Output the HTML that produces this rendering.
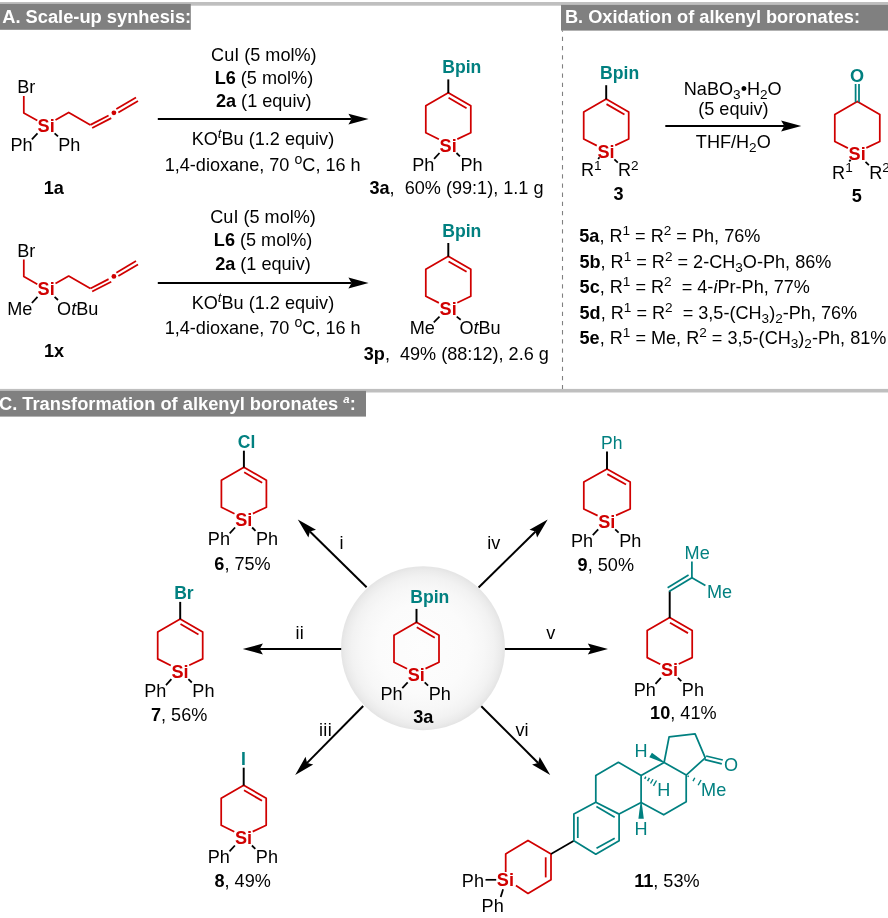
<!DOCTYPE html>
<html lang="en"><head><meta charset="utf-8"><title>Scheme</title>
<style>html,body{margin:0;padding:0;background:#fff}svg{display:block}text{font-family:'Liberation Sans', sans-serif;white-space:pre}</style></head>
<body>
<svg width="888" height="918" viewBox="0 0 888 918">
<defs><radialGradient id="sph" cx="50%" cy="50%" r="50%"><stop offset="0" stop-color="#fdfdfd"/><stop offset="0.55" stop-color="#fbfbfb"/><stop offset="0.75" stop-color="#f7f7f7"/><stop offset="0.87" stop-color="#f2f2f2"/><stop offset="0.95" stop-color="#ebebeb"/><stop offset="1" stop-color="#e4e4e4"/></radialGradient></defs>
<rect width="888" height="918" fill="#ffffff"/>
<rect x="0" y="2.0" width="888" height="3.7" fill="#bfbfbf"/>
<rect x="0" y="3.9" width="190.8" height="25.9" fill="#808080"/>
<rect x="561.0" y="4.9" width="327.0" height="25.7" fill="#808080"/>
<rect x="0" y="388.9" width="888" height="3.6" fill="#bfbfbf"/>
<rect x="0" y="390.9" width="366" height="25.7" fill="#808080"/>
<line x1="562.5" y1="36.8" x2="562.5" y2="389" stroke="#808080" stroke-width="1.1" stroke-dasharray="4.3 4.866"/><line x1="562.5" y1="30.5" x2="562.5" y2="31.8" stroke="#808080" stroke-width="1.1"/>
<polyline points="23.80,96.00 23.80,113.00 37.30,120.60" fill="none" stroke="#d00000" stroke-width="1.75" stroke-linejoin="round" stroke-linecap="butt"/>
<polyline points="55.50,120.00 68.70,112.50 90.40,124.90" fill="none" stroke="#d00000" stroke-width="1.75" stroke-linejoin="round" stroke-linecap="butt"/>
<line x1="90.40" y1="124.90" x2="108.57" y2="115.55" stroke="#d00000" stroke-width="1.75" stroke-linecap="butt"/>
<line x1="92.18" y1="127.92" x2="111.23" y2="118.11" stroke="#d00000" stroke-width="1.75" stroke-linecap="butt"/>
<line x1="116.33" y1="109.05" x2="135.99" y2="97.48" stroke="#d00000" stroke-width="1.75" stroke-linecap="butt"/>
<line x1="118.36" y1="112.49" x2="138.01" y2="100.92" stroke="#d00000" stroke-width="1.75" stroke-linecap="butt"/>
<circle cx="113.9" cy="112.8" r="2.4" fill="#d00000"/>
<line x1="37.50" y1="133.30" x2="31.90" y2="139.40" stroke="#000000" stroke-width="1.75" stroke-linecap="butt"/>
<line x1="54.60" y1="133.30" x2="58.00" y2="136.40" stroke="#000000" stroke-width="1.75" stroke-linecap="butt"/>
<polyline points="23.80,259.60 23.80,276.60 37.30,284.20" fill="none" stroke="#d00000" stroke-width="1.75" stroke-linejoin="round" stroke-linecap="butt"/>
<polyline points="55.50,283.60 68.70,276.10 90.40,288.50" fill="none" stroke="#d00000" stroke-width="1.75" stroke-linejoin="round" stroke-linecap="butt"/>
<line x1="90.40" y1="288.50" x2="108.57" y2="279.15" stroke="#d00000" stroke-width="1.75" stroke-linecap="butt"/>
<line x1="92.18" y1="291.52" x2="111.23" y2="281.71" stroke="#d00000" stroke-width="1.75" stroke-linecap="butt"/>
<line x1="116.33" y1="272.65" x2="135.99" y2="261.08" stroke="#d00000" stroke-width="1.75" stroke-linecap="butt"/>
<line x1="118.36" y1="276.09" x2="138.01" y2="264.52" stroke="#d00000" stroke-width="1.75" stroke-linecap="butt"/>
<circle cx="113.9" cy="276.4" r="2.4" fill="#d00000"/>
<line x1="37.50" y1="296.90" x2="31.90" y2="303.00" stroke="#000000" stroke-width="1.75" stroke-linecap="butt"/>
<line x1="54.60" y1="296.90" x2="58.00" y2="300.00" stroke="#000000" stroke-width="1.75" stroke-linecap="butt"/>
<line x1="157.80" y1="119.10" x2="351.60" y2="119.10" stroke="#000000" stroke-width="2.0" stroke-linecap="butt"/>
<polygon points="368.60,119.10 348.40,124.50 351.60,119.10 348.40,113.70" fill="#000000"/>
<line x1="157.80" y1="283.00" x2="351.60" y2="283.00" stroke="#000000" stroke-width="2.0" stroke-linecap="butt"/>
<polygon points="368.60,283.00 348.40,288.40 351.60,283.00 348.40,277.60" fill="#000000"/>
<polyline points="438.90,139.30 425.80,132.70 425.80,105.70 448.30,92.70 470.80,105.70 470.80,132.70 457.30,139.10" fill="none" stroke="#d00000" stroke-width="1.75" stroke-linejoin="round" stroke-linecap="butt"/>
<line x1="448.57" y1="97.82" x2="466.57" y2="108.22" stroke="#d00000" stroke-width="1.75" stroke-linecap="butt"/>
<line x1="448.30" y1="93.00" x2="448.30" y2="79.40" stroke="#000000" stroke-width="1.95" stroke-linecap="butt"/>
<line x1="439.50" y1="153.00" x2="434.10" y2="158.90" stroke="#000000" stroke-width="1.75" stroke-linecap="butt"/>
<line x1="456.50" y1="153.00" x2="459.90" y2="156.30" stroke="#000000" stroke-width="1.75" stroke-linecap="butt"/>
<polyline points="438.90,302.90 425.80,296.30 425.80,269.30 448.30,256.30 470.80,269.30 470.80,296.30 457.30,302.70" fill="none" stroke="#d00000" stroke-width="1.75" stroke-linejoin="round" stroke-linecap="butt"/>
<line x1="448.57" y1="261.42" x2="466.57" y2="271.82" stroke="#d00000" stroke-width="1.75" stroke-linecap="butt"/>
<line x1="448.30" y1="256.60" x2="448.30" y2="243.00" stroke="#000000" stroke-width="1.95" stroke-linecap="butt"/>
<line x1="439.50" y1="316.60" x2="433.80" y2="322.30" stroke="#000000" stroke-width="1.75" stroke-linecap="butt"/>
<line x1="456.70" y1="316.60" x2="460.70" y2="319.70" stroke="#000000" stroke-width="1.75" stroke-linecap="butt"/>
<polyline points="596.80,145.60 583.70,139.00 583.70,112.00 606.20,99.00 628.70,112.00 628.70,139.00 615.20,145.40" fill="none" stroke="#d00000" stroke-width="1.75" stroke-linejoin="round" stroke-linecap="butt"/>
<line x1="606.47" y1="104.12" x2="624.47" y2="114.52" stroke="#d00000" stroke-width="1.75" stroke-linecap="butt"/>
<line x1="606.20" y1="99.30" x2="606.20" y2="85.20" stroke="#000000" stroke-width="1.95" stroke-linecap="butt"/>
<line x1="599.50" y1="157.30" x2="598.20" y2="159.00" stroke="#000000" stroke-width="1.75" stroke-linecap="butt"/>
<line x1="614.40" y1="159.30" x2="617.80" y2="162.60" stroke="#000000" stroke-width="1.75" stroke-linecap="butt"/>
<line x1="665.30" y1="126.00" x2="784.30" y2="126.00" stroke="#000000" stroke-width="2.0" stroke-linecap="butt"/>
<polygon points="801.30,126.00 781.10,131.40 784.30,126.00 781.10,120.60" fill="#000000"/>
<polyline points="847.90,148.10 834.80,141.50 834.80,114.50 857.30,101.50 879.80,114.50 879.80,141.50 866.30,147.90" fill="none" stroke="#d00000" stroke-width="1.75" stroke-linejoin="round" stroke-linecap="butt"/>
<line x1="855.60" y1="102.30" x2="855.60" y2="84.00" stroke="#008080" stroke-width="1.75" stroke-linecap="butt"/>
<line x1="859.00" y1="102.30" x2="859.00" y2="84.00" stroke="#008080" stroke-width="1.75" stroke-linecap="butt"/>
<line x1="850.60" y1="159.80" x2="849.30" y2="161.50" stroke="#000000" stroke-width="1.75" stroke-linecap="butt"/>
<line x1="865.50" y1="161.80" x2="868.90" y2="165.10" stroke="#000000" stroke-width="1.75" stroke-linecap="butt"/>
<circle cx="423.0" cy="648.2" r="82.0" fill="url(#sph)"/>
<line x1="366.60" y1="587.30" x2="309.91" y2="531.43" stroke="#000000" stroke-width="2.0" stroke-linecap="butt"/>
<polygon points="297.80,519.50 315.98,529.83 309.91,531.43 308.40,537.52" fill="#000000"/>
<line x1="341.20" y1="649.00" x2="259.70" y2="649.00" stroke="#000000" stroke-width="2.0" stroke-linecap="butt"/>
<polygon points="242.70,649.00 262.90,643.60 259.70,649.00 262.90,654.40" fill="#000000"/>
<line x1="363.20" y1="706.00" x2="307.13" y2="762.89" stroke="#000000" stroke-width="2.0" stroke-linecap="butt"/>
<polygon points="295.20,775.00 305.53,756.82 307.13,762.89 313.23,764.40" fill="#000000"/>
<line x1="478.60" y1="587.50" x2="535.58" y2="531.42" stroke="#000000" stroke-width="2.0" stroke-linecap="butt"/>
<polygon points="547.70,519.50 537.09,537.52 535.58,531.42 529.51,529.82" fill="#000000"/>
<line x1="504.90" y1="649.00" x2="591.00" y2="649.00" stroke="#000000" stroke-width="2.0" stroke-linecap="butt"/>
<polygon points="608.00,649.00 587.80,654.40 591.00,649.00 587.80,643.60" fill="#000000"/>
<line x1="481.30" y1="706.30" x2="538.16" y2="763.00" stroke="#000000" stroke-width="2.0" stroke-linecap="butt"/>
<polygon points="550.20,775.00 532.08,764.56 538.16,763.00 539.71,756.91" fill="#000000"/>
<polyline points="234.50,513.80 221.40,507.20 221.40,480.20 243.90,467.20 266.40,480.20 266.40,507.20 252.90,513.60" fill="none" stroke="#d00000" stroke-width="1.75" stroke-linejoin="round" stroke-linecap="butt"/>
<line x1="244.17" y1="472.32" x2="262.17" y2="482.72" stroke="#d00000" stroke-width="1.75" stroke-linecap="butt"/>
<line x1="243.90" y1="467.50" x2="243.90" y2="450.70" stroke="#000000" stroke-width="1.95" stroke-linecap="butt"/>
<line x1="235.10" y1="527.50" x2="229.70" y2="533.40" stroke="#000000" stroke-width="1.75" stroke-linecap="butt"/>
<line x1="252.10" y1="527.50" x2="255.50" y2="530.80" stroke="#000000" stroke-width="1.75" stroke-linecap="butt"/>
<polyline points="170.80,665.50 157.70,658.90 157.70,631.90 180.20,618.90 202.70,631.90 202.70,658.90 189.20,665.30" fill="none" stroke="#d00000" stroke-width="1.75" stroke-linejoin="round" stroke-linecap="butt"/>
<line x1="180.47" y1="624.02" x2="198.47" y2="634.42" stroke="#d00000" stroke-width="1.75" stroke-linecap="butt"/>
<line x1="180.20" y1="619.20" x2="180.20" y2="601.90" stroke="#000000" stroke-width="1.95" stroke-linecap="butt"/>
<line x1="171.40" y1="679.20" x2="166.00" y2="685.10" stroke="#000000" stroke-width="1.75" stroke-linecap="butt"/>
<line x1="188.40" y1="679.20" x2="191.80" y2="682.50" stroke="#000000" stroke-width="1.75" stroke-linecap="butt"/>
<polyline points="234.30,831.80 221.20,825.20 221.20,798.20 243.70,785.20 266.20,798.20 266.20,825.20 252.70,831.60" fill="none" stroke="#d00000" stroke-width="1.75" stroke-linejoin="round" stroke-linecap="butt"/>
<line x1="243.97" y1="790.32" x2="261.97" y2="800.72" stroke="#d00000" stroke-width="1.75" stroke-linecap="butt"/>
<line x1="243.70" y1="785.50" x2="243.70" y2="767.70" stroke="#000000" stroke-width="1.95" stroke-linecap="butt"/>
<line x1="234.90" y1="845.50" x2="229.50" y2="851.40" stroke="#000000" stroke-width="1.75" stroke-linecap="butt"/>
<line x1="251.90" y1="845.50" x2="255.30" y2="848.80" stroke="#000000" stroke-width="1.75" stroke-linecap="butt"/>
<polyline points="597.60,515.60 583.80,509.00 583.80,482.00 607.00,469.00 630.20,482.00 630.20,509.00 616.00,515.40" fill="none" stroke="#d00000" stroke-width="1.75" stroke-linejoin="round" stroke-linecap="butt"/>
<line x1="607.34" y1="474.12" x2="626.00" y2="484.58" stroke="#d00000" stroke-width="1.75" stroke-linecap="butt"/>
<line x1="607.00" y1="469.30" x2="607.00" y2="451.50" stroke="#000000" stroke-width="1.95" stroke-linecap="butt"/>
<line x1="598.20" y1="529.30" x2="592.80" y2="535.20" stroke="#000000" stroke-width="1.75" stroke-linecap="butt"/>
<line x1="615.20" y1="529.30" x2="618.60" y2="532.60" stroke="#000000" stroke-width="1.75" stroke-linecap="butt"/>
<polyline points="660.30,664.20 647.20,657.60 647.20,630.60 669.70,617.60 692.20,630.60 692.20,657.60 678.70,664.00" fill="none" stroke="#d00000" stroke-width="1.75" stroke-linejoin="round" stroke-linecap="butt"/>
<line x1="669.97" y1="622.72" x2="687.97" y2="633.12" stroke="#d00000" stroke-width="1.75" stroke-linecap="butt"/>
<line x1="669.70" y1="617.90" x2="669.70" y2="591.10" stroke="#000000" stroke-width="1.95" stroke-linecap="butt"/>
<line x1="660.90" y1="677.90" x2="655.50" y2="683.80" stroke="#000000" stroke-width="1.75" stroke-linecap="butt"/>
<line x1="677.90" y1="677.90" x2="681.30" y2="681.20" stroke="#000000" stroke-width="1.75" stroke-linecap="butt"/>
<line x1="669.10" y1="591.50" x2="691.90" y2="577.70" stroke="#008080" stroke-width="1.75" stroke-linecap="butt"/>
<line x1="667.63" y1="587.68" x2="688.55" y2="575.05" stroke="#008080" stroke-width="1.75" stroke-linecap="butt"/>
<line x1="691.90" y1="578.20" x2="691.90" y2="561.40" stroke="#008080" stroke-width="1.75" stroke-linecap="butt"/>
<line x1="691.50" y1="577.50" x2="705.40" y2="585.40" stroke="#008080" stroke-width="1.75" stroke-linecap="butt"/>
<polyline points="407.10,668.80 394.00,662.20 394.00,635.20 416.50,622.20 439.00,635.20 439.00,662.20 425.50,668.60" fill="none" stroke="#d00000" stroke-width="1.75" stroke-linejoin="round" stroke-linecap="butt"/>
<line x1="416.77" y1="627.32" x2="434.77" y2="637.72" stroke="#d00000" stroke-width="1.75" stroke-linecap="butt"/>
<line x1="416.50" y1="622.50" x2="416.50" y2="608.90" stroke="#000000" stroke-width="1.95" stroke-linecap="butt"/>
<line x1="407.70" y1="682.30" x2="402.30" y2="688.20" stroke="#000000" stroke-width="1.75" stroke-linecap="butt"/>
<line x1="424.70" y1="682.30" x2="428.10" y2="685.60" stroke="#000000" stroke-width="1.75" stroke-linecap="butt"/>
<polyline points="505.70,872.00 505.70,853.90 528.00,840.40 551.00,853.90 551.00,879.80 528.00,893.40 515.90,885.60" fill="none" stroke="#d00000" stroke-width="1.75" stroke-linejoin="round" stroke-linecap="butt"/>
<line x1="545.70" y1="857.30" x2="545.70" y2="877.40" stroke="#d00000" stroke-width="1.75" stroke-linecap="butt"/>
<line x1="551.00" y1="853.90" x2="573.90" y2="840.70" stroke="#000000" stroke-width="1.75" stroke-linecap="butt"/>
<line x1="485.50" y1="879.80" x2="496.20" y2="879.80" stroke="#000000" stroke-width="1.7" stroke-linecap="butt"/>
<line x1="503.10" y1="889.30" x2="500.70" y2="897.00" stroke="#000000" stroke-width="1.75" stroke-linecap="butt"/>
<polygon points="573.90,840.70 573.90,814.10 595.80,802.20 619.10,814.10 619.10,840.70 595.80,854.20" fill="none" stroke="#008080" stroke-width="1.75" stroke-linejoin="round"/>
<line x1="577.80" y1="816.80" x2="577.80" y2="838.00" stroke="#008080" stroke-width="1.75" stroke-linecap="butt"/>
<line x1="596.40" y1="806.60" x2="614.70" y2="817.20" stroke="#008080" stroke-width="1.75" stroke-linecap="butt"/>
<line x1="614.70" y1="838.20" x2="596.50" y2="848.30" stroke="#008080" stroke-width="1.75" stroke-linecap="butt"/>
<polyline points="595.80,802.20 595.80,775.40 618.40,762.30 641.10,775.40 641.10,802.40 619.10,814.10" fill="none" stroke="#008080" stroke-width="1.75" stroke-linejoin="round"/>
<polyline points="641.10,775.40 664.10,762.50 686.20,775.10 686.20,801.80 663.70,814.80 641.10,802.40" fill="none" stroke="#008080" stroke-width="1.75" stroke-linejoin="round"/>
<polyline points="664.10,762.50 669.10,736.90 695.10,733.90 705.30,757.80 686.20,775.10" fill="none" stroke="#008080" stroke-width="1.75" stroke-linejoin="round"/>
<line x1="706.10" y1="756.00" x2="722.80" y2="760.00" stroke="#008080" stroke-width="1.75" stroke-linecap="butt"/>
<line x1="704.70" y1="759.60" x2="721.80" y2="763.90" stroke="#008080" stroke-width="1.75" stroke-linecap="butt"/>
<polygon points="664.39,761.98 651.91,752.64 649.29,757.36 663.81,763.02" fill="#008080"/>
<polygon points="640.50,802.40 638.40,818.80 643.80,818.80 641.70,802.40" fill="#008080"/>
<line x1="644.68" y1="778.80" x2="645.86" y2="776.68" stroke="#008080" stroke-width="1.4" stroke-linecap="butt"/>
<line x1="647.61" y1="781.16" x2="649.41" y2="777.96" stroke="#008080" stroke-width="1.4" stroke-linecap="butt"/>
<line x1="650.55" y1="783.53" x2="652.97" y2="779.23" stroke="#008080" stroke-width="1.4" stroke-linecap="butt"/>
<line x1="653.48" y1="785.90" x2="656.52" y2="780.50" stroke="#008080" stroke-width="1.4" stroke-linecap="butt"/>
<line x1="687.82" y1="776.91" x2="688.60" y2="775.54" stroke="#008080" stroke-width="1.4" stroke-linecap="butt"/>
<line x1="692.98" y1="781.07" x2="694.83" y2="777.76" stroke="#008080" stroke-width="1.4" stroke-linecap="butt"/>
<line x1="698.13" y1="785.22" x2="701.07" y2="779.98" stroke="#008080" stroke-width="1.4" stroke-linecap="butt"/>
<g opacity="0.999">
<text transform="translate(2.22 22.70) scale(1.0000 1)" font-size="18.3" fill="#ffffff" xml:space="preserve"><tspan font-weight="bold">A. Scale-up synhesis:</tspan></text>
<text transform="translate(564.90 23.30) scale(1.0000 1)" font-size="18.2" fill="#ffffff" xml:space="preserve"><tspan font-weight="bold">B. Oxidation of alkenyl boronates:</tspan></text>
<text transform="translate(-1.05 410.20) scale(1.0000 1)" font-size="18.3" fill="#ffffff" xml:space="preserve"><tspan font-weight="bold">C. Transformation of alkenyl boronates </tspan><tspan font-weight="bold" font-style="italic" font-size="11.35" dy="-6.95">a</tspan><tspan font-weight="bold" dy="6.95">:</tspan></text>
<text transform="translate(17.25 93.30) scale(1.0000 1)" font-size="18.1" fill="#000000" xml:space="preserve"><tspan>Br</tspan></text>
<text transform="translate(37.60 131.80) scale(1.0000 1)" font-size="18.1" fill="#d00000" xml:space="preserve"><tspan font-weight="bold">Si</tspan></text>
<text transform="translate(10.50 150.80) scale(1.0000 1)" font-size="18.1" fill="#000000" xml:space="preserve"><tspan>Ph</tspan></text>
<text transform="translate(58.25 150.80) scale(1.0000 1)" font-size="18.1" fill="#000000" xml:space="preserve"><tspan>Ph</tspan></text>
<text transform="translate(43.77 193.80) scale(1.0000 1)" font-size="18.1" fill="#000000" xml:space="preserve"><tspan font-weight="bold">1a</tspan></text>
<text transform="translate(17.25 256.90) scale(1.0000 1)" font-size="18.1" fill="#000000" xml:space="preserve"><tspan>Br</tspan></text>
<text transform="translate(37.60 295.40) scale(1.0000 1)" font-size="18.1" fill="#d00000" xml:space="preserve"><tspan font-weight="bold">Si</tspan></text>
<text transform="translate(7.15 314.80) scale(1.0000 1)" font-size="18.1" fill="#000000" xml:space="preserve"><tspan>Me</tspan></text>
<text transform="translate(57.10 314.80) scale(1.0000 1)" font-size="18.1" fill="#000000" xml:space="preserve"><tspan>O</tspan><tspan font-style="italic">t</tspan><tspan>Bu</tspan></text>
<text transform="translate(44.00 357.30) scale(1.0000 1)" font-size="18.1" fill="#000000" xml:space="preserve"><tspan font-weight="bold">1x</tspan></text>
<text transform="translate(211.07 60.75) scale(1.0000 1)" font-size="18.1" fill="#000000" xml:space="preserve"><tspan>CuI (5 mol%)</tspan></text>
<text transform="translate(214.65 84.05) scale(1.0000 1)" font-size="18.1" fill="#000000" xml:space="preserve"><tspan font-weight="bold">L6</tspan><tspan> (5 mol%)</tspan></text>
<text transform="translate(215.95 107.40) scale(1.0000 1)" font-size="18.1" fill="#000000" xml:space="preserve"><tspan font-weight="bold">2a</tspan><tspan> (1 equiv)</tspan></text>
<text transform="translate(191.65 145.20) scale(1.0000 1)" font-size="18.1" fill="#000000" xml:space="preserve"><tspan>KO</tspan><tspan font-style="italic" font-size="13.39" dy="-7.40">t</tspan><tspan dy="7.40">Bu (1.2 equiv)</tspan></text>
<text transform="translate(164.68 170.60) scale(1.0000 1)" font-size="18.1" fill="#000000" xml:space="preserve"><tspan>1,4-dioxane, 70 </tspan><tspan font-size="14.12" dy="-6.90">o</tspan><tspan dy="6.90">C, 16 h</tspan></text>
<text transform="translate(210.27 222.80) scale(1.0000 1)" font-size="18.1" fill="#000000" xml:space="preserve"><tspan>CuI (5 mol%)</tspan></text>
<text transform="translate(213.85 246.30) scale(1.0000 1)" font-size="18.1" fill="#000000" xml:space="preserve"><tspan font-weight="bold">L6</tspan><tspan> (5 mol%)</tspan></text>
<text transform="translate(215.15 270.10) scale(1.0000 1)" font-size="18.1" fill="#000000" xml:space="preserve"><tspan font-weight="bold">2a</tspan><tspan> (1 equiv)</tspan></text>
<text transform="translate(191.65 308.90) scale(1.0000 1)" font-size="18.1" fill="#000000" xml:space="preserve"><tspan>KO</tspan><tspan font-style="italic" font-size="13.39" dy="-7.40">t</tspan><tspan dy="7.40">Bu (1.2 equiv)</tspan></text>
<text transform="translate(164.68 334.20) scale(1.0000 1)" font-size="18.1" fill="#000000" xml:space="preserve"><tspan>1,4-dioxane, 70 </tspan><tspan font-size="14.12" dy="-6.90">o</tspan><tspan dy="6.90">C, 16 h</tspan></text>
<text transform="translate(439.60 151.50) scale(1.0000 1)" font-size="18.1" fill="#d00000" xml:space="preserve"><tspan font-weight="bold">Si</tspan></text>
<text transform="translate(412.25 170.70) scale(1.0000 1)" font-size="18.1" fill="#000000" xml:space="preserve"><tspan>Ph</tspan></text>
<text transform="translate(460.45 170.70) scale(1.0000 1)" font-size="18.1" fill="#000000" xml:space="preserve"><tspan>Ph</tspan></text>
<text transform="translate(442.20 73.40) scale(1.0000 1)" font-size="17.6" fill="#008080" xml:space="preserve"><tspan font-weight="bold">Bpin</tspan></text>
<text transform="translate(369.43 194.40) scale(1.0000 1)" font-size="18.1" fill="#000000" xml:space="preserve"><tspan font-weight="bold">3a</tspan><tspan>,  60% (99:1), 1.1 g</tspan></text>
<text transform="translate(439.60 315.10) scale(1.0000 1)" font-size="18.1" fill="#d00000" xml:space="preserve"><tspan font-weight="bold">Si</tspan></text>
<text transform="translate(409.65 334.05) scale(1.0000 1)" font-size="18.1" fill="#000000" xml:space="preserve"><tspan>Me</tspan></text>
<text transform="translate(459.38 334.05) scale(1.0000 1)" font-size="18.1" fill="#000000" xml:space="preserve"><tspan>O</tspan><tspan font-style="italic">t</tspan><tspan>Bu</tspan></text>
<text transform="translate(442.20 237.00) scale(1.0000 1)" font-size="17.6" fill="#008080" xml:space="preserve"><tspan font-weight="bold">Bpin</tspan></text>
<text transform="translate(363.75 360.30) scale(1.0000 1)" font-size="18.1" fill="#000000" xml:space="preserve"><tspan font-weight="bold">3p</tspan><tspan>,  49% (88:12), 2.6 g</tspan></text>
<text transform="translate(597.50 157.80) scale(1.0000 1)" font-size="18.1" fill="#d00000" xml:space="preserve"><tspan font-weight="bold">Si</tspan></text>
<text transform="translate(600.10 79.20) scale(1.0000 1)" font-size="17.6" fill="#008080" xml:space="preserve"><tspan font-weight="bold">Bpin</tspan></text>
<text transform="translate(580.95 176.40) scale(1.0000 1)" font-size="18.1" fill="#000000" xml:space="preserve"><tspan>R</tspan><tspan font-size="13.58" dy="-6.90">1</tspan></text>
<text transform="translate(618.00 176.40) scale(1.0000 1)" font-size="18.1" fill="#000000" xml:space="preserve"><tspan>R</tspan><tspan font-size="13.58" dy="-6.90">2</tspan></text>
<text transform="translate(613.42 200.00) scale(1.0000 1)" font-size="18.1" fill="#000000" xml:space="preserve"><tspan font-weight="bold">3</tspan></text>
<text transform="translate(683.80 95.30) scale(1.0000 1)" font-size="18.1" fill="#000000" xml:space="preserve"><tspan>NaBO</tspan><tspan font-size="13.58" dy="4.00">3</tspan><tspan dy="-4.00">•H</tspan><tspan font-size="13.58" dy="4.00">2</tspan><tspan dy="-4.00">O</tspan></text>
<text transform="translate(698.20 114.70) scale(1.0000 1)" font-size="18.1" fill="#000000" xml:space="preserve"><tspan>(5 equiv)</tspan></text>
<text transform="translate(695.83 148.00) scale(1.0000 1)" font-size="18.1" fill="#000000" xml:space="preserve"><tspan>THF/H</tspan><tspan font-size="13.58" dy="4.00">2</tspan><tspan dy="-4.00">O</tspan></text>
<text transform="translate(848.60 160.30) scale(1.0000 1)" font-size="18.1" fill="#d00000" xml:space="preserve"><tspan font-weight="bold">Si</tspan></text>
<text transform="translate(850.12 82.30) scale(1.0000 1)" font-size="18.1" fill="#008080" xml:space="preserve"><tspan font-weight="bold">O</tspan></text>
<text transform="translate(832.10 178.80) scale(1.0000 1)" font-size="18.1" fill="#000000" xml:space="preserve"><tspan>R</tspan><tspan font-size="13.58" dy="-6.90">1</tspan></text>
<text transform="translate(869.15 178.80) scale(1.0000 1)" font-size="18.1" fill="#000000" xml:space="preserve"><tspan>R</tspan><tspan font-size="13.58" dy="-6.90">2</tspan></text>
<text transform="translate(851.73 201.80) scale(1.0000 1)" font-size="18.1" fill="#000000" xml:space="preserve"><tspan font-weight="bold">5</tspan></text>
<text transform="translate(579.25 241.80) scale(1.0000 1)" font-size="18.1" fill="#000000" xml:space="preserve"><tspan font-weight="bold">5a</tspan><tspan>, R</tspan><tspan font-size="13.58" dy="-6.90">1</tspan><tspan dy="6.90"> = R</tspan><tspan font-size="13.58" dy="-6.90">2</tspan><tspan dy="6.90"> = Ph, 76%</tspan></text>
<text transform="translate(579.40 267.70) scale(1.0000 1)" font-size="18.1" fill="#000000" xml:space="preserve"><tspan font-weight="bold">5b</tspan><tspan>, R</tspan><tspan font-size="13.58" dy="-6.90">1</tspan><tspan dy="6.90"> = R</tspan><tspan font-size="13.58" dy="-6.90">2</tspan><tspan dy="6.90"> = 2-CH</tspan><tspan font-size="13.58" dy="4.00">3</tspan><tspan dy="-4.00">O-Ph, 86%</tspan></text>
<text transform="translate(579.58 292.50) scale(1.0000 1)" font-size="18.1" fill="#000000" xml:space="preserve"><tspan font-weight="bold">5c</tspan><tspan>, R</tspan><tspan font-size="13.58" dy="-6.90">1</tspan><tspan dy="6.90"> = R</tspan><tspan font-size="13.58" dy="-6.90">2</tspan><tspan dy="6.90">  = 4-</tspan><tspan font-style="italic">i</tspan><tspan>Pr-Ph, 77%</tspan></text>
<text transform="translate(579.55 318.50) scale(1.0000 1)" font-size="18.1" fill="#000000" xml:space="preserve"><tspan font-weight="bold">5d</tspan><tspan>, R</tspan><tspan font-size="13.58" dy="-6.90">1</tspan><tspan dy="6.90"> = R</tspan><tspan font-size="13.58" dy="-6.90">2</tspan><tspan dy="6.90">  = 3,5-(CH</tspan><tspan font-size="13.58" dy="4.00">3</tspan><tspan dy="-4.00">)</tspan><tspan font-size="13.58" dy="4.00">2</tspan><tspan dy="-4.00">-Ph, 76%</tspan></text>
<text transform="translate(579.52 343.80) scale(1.0000 1)" font-size="18.1" fill="#000000" xml:space="preserve"><tspan font-weight="bold">5e</tspan><tspan>, R</tspan><tspan font-size="13.58" dy="-6.90">1</tspan><tspan dy="6.90"> = Me, R</tspan><tspan font-size="13.58" dy="-6.90">2</tspan><tspan dy="6.90"> = 3,5-(CH</tspan><tspan font-size="13.58" dy="4.00">3</tspan><tspan dy="-4.00">)</tspan><tspan font-size="13.58" dy="4.00">2</tspan><tspan dy="-4.00">-Ph, 81%</tspan></text>
<text transform="translate(339.60 549.40) scale(1.0000 1)" font-size="18.1" fill="#000000" xml:space="preserve"><tspan>i</tspan></text>
<text transform="translate(295.52 639.10) scale(1.0000 1)" font-size="18.1" fill="#000000" letter-spacing="0.3" xml:space="preserve"><tspan>ii</tspan></text>
<text transform="translate(318.93 735.90) scale(1.0000 1)" font-size="18.1" fill="#000000" letter-spacing="0.4" xml:space="preserve"><tspan>iii</tspan></text>
<text transform="translate(487.20 549.40) scale(1.0000 1)" font-size="18.1" fill="#000000" xml:space="preserve"><tspan>iv</tspan></text>
<text transform="translate(546.35 639.30) scale(1.0000 1)" font-size="18.1" fill="#000000" xml:space="preserve"><tspan>v</tspan></text>
<text transform="translate(515.40 735.80) scale(1.0000 1)" font-size="18.1" fill="#000000" xml:space="preserve"><tspan>vi</tspan></text>
<text transform="translate(235.20 526.00) scale(1.0000 1)" font-size="18.1" fill="#d00000" xml:space="preserve"><tspan font-weight="bold">Si</tspan></text>
<text transform="translate(207.85 545.20) scale(1.0000 1)" font-size="18.1" fill="#000000" xml:space="preserve"><tspan>Ph</tspan></text>
<text transform="translate(256.05 545.20) scale(1.0000 1)" font-size="18.1" fill="#000000" xml:space="preserve"><tspan>Ph</tspan></text>
<text transform="translate(237.82 448.00) scale(1.0000 1)" font-size="17.5" fill="#008080" xml:space="preserve"><tspan font-weight="bold">Cl</tspan></text>
<text transform="translate(214.33 569.60) scale(1.0000 1)" font-size="18.1" fill="#000000" xml:space="preserve"><tspan font-weight="bold">6</tspan><tspan>, 75%</tspan></text>
<text transform="translate(171.50 677.70) scale(1.0000 1)" font-size="18.1" fill="#d00000" xml:space="preserve"><tspan font-weight="bold">Si</tspan></text>
<text transform="translate(144.15 696.90) scale(1.0000 1)" font-size="18.1" fill="#000000" xml:space="preserve"><tspan>Ph</tspan></text>
<text transform="translate(192.35 696.90) scale(1.0000 1)" font-size="18.1" fill="#000000" xml:space="preserve"><tspan>Ph</tspan></text>
<text transform="translate(174.22 599.10) scale(1.0000 1)" font-size="17.5" fill="#008080" xml:space="preserve"><tspan font-weight="bold">Br</tspan></text>
<text transform="translate(150.95 721.30) scale(1.0000 1)" font-size="18.1" fill="#000000" xml:space="preserve"><tspan font-weight="bold">7</tspan><tspan>, 56%</tspan></text>
<text transform="translate(235.00 844.00) scale(1.0000 1)" font-size="18.1" fill="#d00000" xml:space="preserve"><tspan font-weight="bold">Si</tspan></text>
<text transform="translate(207.65 863.20) scale(1.0000 1)" font-size="18.1" fill="#000000" xml:space="preserve"><tspan>Ph</tspan></text>
<text transform="translate(255.85 863.20) scale(1.0000 1)" font-size="18.1" fill="#000000" xml:space="preserve"><tspan>Ph</tspan></text>
<text transform="translate(241.07 765.40) scale(1.0000 1)" font-size="17.5" fill="#008080" xml:space="preserve"><tspan font-weight="bold">I</tspan></text>
<text transform="translate(214.43 886.90) scale(1.0000 1)" font-size="18.1" fill="#000000" xml:space="preserve"><tspan font-weight="bold">8</tspan><tspan>, 49%</tspan></text>
<text transform="translate(598.30 527.80) scale(1.0000 1)" font-size="18.1" fill="#d00000" xml:space="preserve"><tspan font-weight="bold">Si</tspan></text>
<text transform="translate(570.95 547.00) scale(1.0000 1)" font-size="18.1" fill="#000000" xml:space="preserve"><tspan>Ph</tspan></text>
<text transform="translate(619.15 547.00) scale(1.0000 1)" font-size="18.1" fill="#000000" xml:space="preserve"><tspan>Ph</tspan></text>
<text transform="translate(601.02 449.00) scale(1.0000 1)" font-size="17.5" fill="#008080" xml:space="preserve"><tspan>Ph</tspan></text>
<text transform="translate(577.62 571.40) scale(1.0000 1)" font-size="18.1" fill="#000000" xml:space="preserve"><tspan font-weight="bold">9</tspan><tspan>, 50%</tspan></text>
<text transform="translate(661.00 676.40) scale(1.0000 1)" font-size="18.1" fill="#d00000" xml:space="preserve"><tspan font-weight="bold">Si</tspan></text>
<text transform="translate(633.65 695.60) scale(1.0000 1)" font-size="18.1" fill="#000000" xml:space="preserve"><tspan>Ph</tspan></text>
<text transform="translate(681.85 695.60) scale(1.0000 1)" font-size="18.1" fill="#000000" xml:space="preserve"><tspan>Ph</tspan></text>
<text transform="translate(650.12 719.30) scale(1.0000 1)" font-size="18.1" fill="#000000" xml:space="preserve"><tspan font-weight="bold">10</tspan><tspan>, 41%</tspan></text>
<text transform="translate(684.60 559.30) scale(1.0000 1)" font-size="18.1" fill="#008080" xml:space="preserve"><tspan>Me</tspan></text>
<text transform="translate(706.90 598.40) scale(1.0000 1)" font-size="18.1" fill="#008080" xml:space="preserve"><tspan>Me</tspan></text>
<text transform="translate(407.80 680.70) scale(1.0000 1)" font-size="18.1" fill="#d00000" xml:space="preserve"><tspan font-weight="bold">Si</tspan></text>
<text transform="translate(380.45 700.00) scale(1.0000 1)" font-size="18.1" fill="#000000" xml:space="preserve"><tspan>Ph</tspan></text>
<text transform="translate(428.65 700.00) scale(1.0000 1)" font-size="18.1" fill="#000000" xml:space="preserve"><tspan>Ph</tspan></text>
<text transform="translate(410.20 602.70) scale(1.0000 1)" font-size="17.6" fill="#008080" xml:space="preserve"><tspan font-weight="bold">Bpin</tspan></text>
<text transform="translate(413.15 723.30) scale(1.0000 1)" font-size="18.1" fill="#000000" xml:space="preserve"><tspan font-weight="bold">3a</tspan></text>
<text transform="translate(496.85 886.20) scale(1.0000 1)" font-size="18.1" fill="#d00000" xml:space="preserve"><tspan font-weight="bold">Si</tspan></text>
<text transform="translate(461.85 886.50) scale(1.0000 1)" font-size="18.1" fill="#000000" xml:space="preserve"><tspan>Ph</tspan></text>
<text transform="translate(481.60 912.40) scale(1.0000 1)" font-size="18.1" fill="#000000" xml:space="preserve"><tspan>Ph</tspan></text>
<text transform="translate(723.95 771.10) scale(1.0000 1)" font-size="18.1" fill="#008080" xml:space="preserve"><tspan>O</tspan></text>
<text transform="translate(701.10 796.20) scale(1.0000 1)" font-size="18.1" fill="#008080" xml:space="preserve"><tspan>Me</tspan></text>
<text transform="translate(634.47 756.70) scale(1.0000 1)" font-size="18.1" fill="#008080" xml:space="preserve"><tspan>H</tspan></text>
<text transform="translate(657.17 795.80) scale(1.0000 1)" font-size="18.1" fill="#008080" xml:space="preserve"><tspan>H</tspan></text>
<text transform="translate(634.47 835.40) scale(1.0000 1)" font-size="18.1" fill="#008080" xml:space="preserve"><tspan>H</tspan></text>
<text transform="translate(634.17 886.90) scale(1.0000 1)" font-size="18.1" fill="#000000" xml:space="preserve"><tspan font-weight="bold">11</tspan><tspan>, 53%</tspan></text>
</g>
</svg>
</body></html>
